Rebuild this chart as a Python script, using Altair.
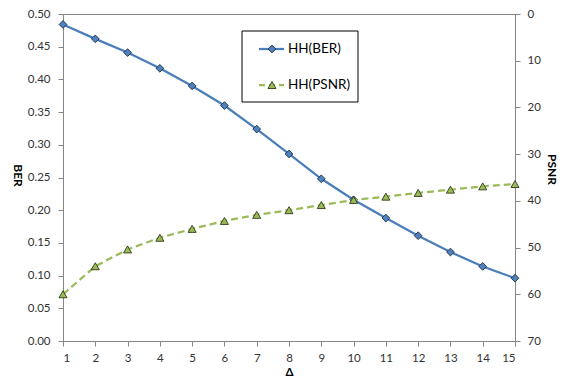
import altair as alt
import pandas as pd

delta = list(range(1, 16))
ber = [0.484, 0.462, 0.441, 0.417, 0.390, 0.360, 0.324, 0.286, 0.248, 0.216,
       0.188, 0.161, 0.136, 0.114, 0.096]
psnr = [60.0, 54.0, 50.4, 47.9, 46.0, 44.3, 43.0, 42.0, 40.9, 39.8,
        39.1, 38.3, 37.6, 36.9, 36.4]
series_names = ["HH(BER)", "HH(PSNR)"]
ber_ticks = [round(0.05 * i, 2) for i in range(11)]
psnr_ticks = list(range(0, 80, 10))

BLUE_LINE = "#4A7EBB"
BLUE_FILL = "#4F81BD"
GREEN = "#9BBB59"
DARK_B = "#1F2F4A"
DARK_G = "#2E3A18"
FONT = "Lato"

W, H = 452, 327

df = pd.DataFrame({"delta": delta, "ber": ber, "psnr": psnr})
base = alt.Chart(df)

x_enc = alt.X(
    "delta:Q",
    scale=alt.Scale(domain=[1, 15], nice=False, zero=False),
    axis=alt.Axis(values=delta, title="Δ", labelPadding=6,
                  titleX=226, titleY=31, titleBaseline="middle", titleFontSize=11.5),
)

y_ber = alt.Y(
    "ber:Q",
    scale=alt.Scale(domain=[0, 0.5], nice=False),
    axis=alt.Axis(values=ber_ticks, format=".2f", title="BER", orient="left",
                  labelPadding=8, titleAngle=90, titleX=-46, titleY=161,
                  titleAlign="center", titleBaseline="middle"),
)

y_psnr = alt.Y(
    "psnr:Q",
    scale=alt.Scale(domain=[0, 70], reverse=True, nice=False),
    axis=alt.Axis(values=psnr_ticks, title="PSNR", orient="right",
                  labelPadding=7, titleAngle=90, titleX=36, titleY=155,
                  titleAlign="center", titleBaseline="middle"),
)

ber_line = base.mark_line(color=BLUE_LINE, strokeWidth=2.25).encode(x=x_enc, y=y_ber)
ber_pts = base.mark_point(shape="diamond", filled=True, fill=BLUE_FILL, stroke=DARK_B,
                          strokeWidth=0.9, size=60, opacity=1).encode(x=x_enc, y=y_ber)
psnr_line = base.mark_line(color=GREEN, strokeWidth=2.25, strokeDash=[7, 4]).encode(x=x_enc, y=y_psnr)
psnr_pts = base.mark_point(shape="triangle-up", filled=True, fill=GREEN, stroke=DARK_G,
                           strokeWidth=0.9, size=65, opacity=1).encode(x=x_enc, y=y_psnr)

ber_layer = alt.layer(ber_line, ber_pts)
psnr_layer = alt.layer(psnr_line, psnr_pts)

# legend box
ldf = pd.DataFrame({"k": [0]})
lg = alt.Chart(ldf)
box = lg.mark_rect(fill="white", stroke="black", strokeWidth=1).encode(
    x=alt.value(179), x2=alt.value(295), y=alt.value(17), y2=alt.value(88))
l1 = lg.mark_rule(color=BLUE_LINE, strokeWidth=2.25).encode(
    x=alt.value(196), x2=alt.value(221), y=alt.value(35))
p1 = lg.mark_point(shape="diamond", filled=True, fill=BLUE_FILL, stroke=DARK_B,
                   strokeWidth=0.9, size=60, opacity=1).encode(x=alt.value(209), y=alt.value(35))
t1 = lg.mark_text(align="left", baseline="middle", font=FONT, fontSize=13.5, color="black").encode(
    x=alt.value(225), y=alt.value(35), text=alt.value(series_names[0]))
l2 = lg.mark_rule(color=GREEN, strokeWidth=2.25, strokeDash=[6, 4]).encode(
    x=alt.value(196), x2=alt.value(221), y=alt.value(71))
p2 = lg.mark_point(shape="triangle-up", filled=True, fill=GREEN, stroke=DARK_G,
                   strokeWidth=0.9, size=65, opacity=1).encode(x=alt.value(209), y=alt.value(71))
t2 = lg.mark_text(align="left", baseline="middle", font=FONT, fontSize=13.5, color="black").encode(
    x=alt.value(225), y=alt.value(71), text=alt.value(series_names[1]))

chart = (
    alt.layer(ber_layer, psnr_layer, box, l1, p1, t1, l2, p2, t2)
    .resolve_scale(y="independent")
    .properties(width=W, height=H,
                padding={"left": 55, "top": 6, "right": 44, "bottom": 36},
                autosize=alt.AutoSizeParams(type="none"))
    .configure_view(stroke="#868686", strokeWidth=1)
    .configure_axis(grid=False, domainColor="#868686", tickColor="#868686", tickSize=5,
                    labelFont=FONT, labelFontSize=11.5, labelColor="#333333",
                    titleFont=FONT, titleFontSize=12, titleFontWeight="bold", titleColor="black")
)

chart.save("out.html", embed_options={"renderer": "svg", "actions": False})
